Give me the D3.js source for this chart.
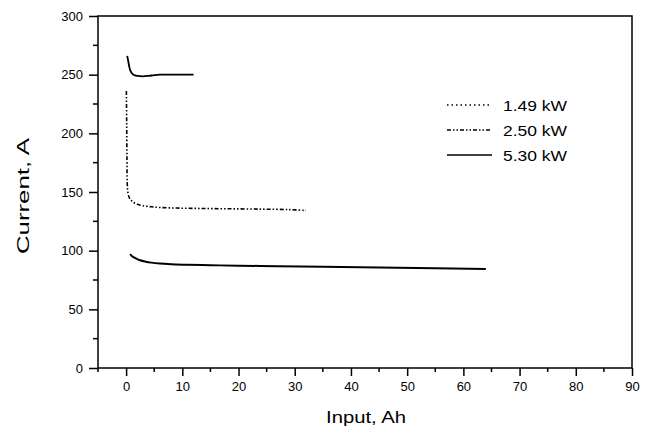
<!DOCTYPE html>
<html>
<head>
<meta charset="utf-8">
<script src="https://cdn.jsdelivr.net/npm/d3@7"></script>
<style>
  body { margin: 0; background: #fff; }
  text { font-family: "Liberation Sans", Arial, sans-serif; fill: #000; }
</style>
</head>
<body>
<svg id="chart" width="655" height="428"></svg>
<script>
'use strict';

// 1.49 kW: low current, longest input (drawn dense, looks solid)
const inputLow = [0.7, 1.0, 1.5, 2.0, 2.5, 3.5, 4.5, 6, 8, 11, 15, 20, 27, 35, 45, 55, 64];
const currentLow = [97, 95.5, 94, 92.8, 91.8, 90.6, 89.8, 89, 88.4, 88, 87.6, 87.2, 86.8, 86.2, 85.6, 85, 84.4];

// 2.50 kW
const inputMid = [0.05, 0.1, 0.15, 0.2, 0.3, 0.5, 0.8, 1.2, 2.0, 3, 4.5, 6, 9, 13, 18, 24, 29, 32];
const currentMid = [236, 210, 180, 158, 150, 146, 143.5, 141.5, 139.5, 138.3, 137.4, 136.8, 136.3, 136, 135.7, 135.4, 135, 134.2];

// 5.30 kW
const inputHigh = [0.2, 0.4, 0.6, 0.9, 1.3, 2, 3, 4, 5, 6, 8, 10, 12];
const currentHigh = [266, 261, 256, 252, 250, 249, 248.6, 249, 249.6, 250, 250, 250, 250];

const legendLabels = ['1.49 kW', '2.50 kW', '5.30 kW'];
const legendDash = ['1.5,3', '4,2,1.5,2,1.5,2', null];

const xTicks = d3.range(0, 91, 10);
const xMinor = d3.range(-5, 90, 10);
const yTicks = d3.range(0, 301, 50);
const yMinor = d3.range(25, 300, 50);

const svg = d3.select('#chart');
const mL = 98, mR = 632, mT = 16, mB = 368;

const x = d3.scaleLinear().domain([-5, 90]).range([mL, mR]);
const y = d3.scaleLinear().domain([0, 300]).range([mB, mT]);

// frame
svg.append('rect')
  .attr('x', mL).attr('y', mT)
  .attr('width', mR - mL).attr('height', mB - mT)
  .attr('fill', 'none').attr('stroke', '#000').attr('stroke-width', 1.5);

// bottom axis
const xAxis = svg.append('g').attr('transform', `translate(0,${mB})`)
  .call(d3.axisBottom(x).tickValues(xTicks).tickSize(8).tickPadding(6).tickFormat(d3.format('d')));
xAxis.select('.domain').remove();
xAxis.selectAll('line').attr('stroke-width', 1.5);
xAxis.selectAll('text').attr('font-size', 13).attr('font-family', '"Liberation Sans", Arial, sans-serif');

svg.append('g').selectAll('line').data(xMinor).join('line')
  .attr('x1', d => x(d)).attr('x2', d => x(d))
  .attr('y1', mB).attr('y2', mB + 4)
  .attr('stroke', '#000').attr('stroke-width', 1.5);

// left axis
const yAxis = svg.append('g').attr('transform', `translate(${mL},0)`)
  .call(d3.axisLeft(y).tickValues(yTicks).tickSize(9).tickPadding(6));
yAxis.select('.domain').remove();
yAxis.selectAll('line').attr('stroke-width', 1.5);
yAxis.selectAll('text').attr('font-size', 13).attr('font-family', '"Liberation Sans", Arial, sans-serif');

svg.append('g').selectAll('line').data(yMinor).join('line')
  .attr('x1', mL - 5).attr('x2', mL)
  .attr('y1', d => y(d)).attr('y2', d => y(d))
  .attr('stroke', '#000').attr('stroke-width', 1.5);

// axis titles
svg.append('text')
  .attr('x', (mL + mR) / 2 + 1).attr('y', 423)
  .attr('text-anchor', 'middle').attr('font-size', 17)
  .attr('textLength', 80).attr('lengthAdjust', 'spacingAndGlyphs')
  .text('Input, Ah');

svg.append('text')
  .attr('transform', `translate(29,196) rotate(-90)`)
  .attr('text-anchor', 'middle').attr('font-size', 16)
  .attr('textLength', 116).attr('lengthAdjust', 'spacingAndGlyphs')
  .text('Current, A');

// curves
const line = d3.line().x(d => x(d[0])).y(d => y(d[1])).curve(d3.curveMonotoneX);

svg.append('path')
  .datum(d3.zip(inputLow, currentLow))
  .attr('d', line).attr('fill', 'none')
  .attr('stroke', '#000').attr('stroke-width', 2);

svg.append('path')
  .datum(d3.zip(inputMid, currentMid))
  .attr('d', d3.line().x(d => x(d[0])).y(d => y(d[1])).curve(d3.curveCatmullRom))
  .attr('fill', 'none')
  .attr('stroke', '#000').attr('stroke-width', 1.6)
  .attr('stroke-dasharray', legendDash[1]);

svg.append('path')
  .datum(d3.zip(inputHigh, currentHigh))
  .attr('d', d3.line().x(d => x(d[0])).y(d => y(d[1])).curve(d3.curveCatmullRom))
  .attr('fill', 'none')
  .attr('stroke', '#000').attr('stroke-width', 1.8);

// legend
const legend = svg.append('g').selectAll('g').data(legendLabels).join('g')
  .attr('transform', (d, i) => `translate(447,${105 + i * 25})`);

legend.append('line')
  .attr('x1', 0).attr('x2', 45).attr('y1', 0).attr('y2', 0)
  .attr('stroke', '#000').attr('stroke-width', 1.5)
  .attr('stroke-dasharray', (d, i) => legendDash[i]);

legend.append('text')
  .attr('x', 56).attr('y', 5.5)
  .attr('font-size', 15.5)
  .attr('textLength', 64).attr('lengthAdjust', 'spacingAndGlyphs')
  .text(d => d);
</script>
</body>
</html>
